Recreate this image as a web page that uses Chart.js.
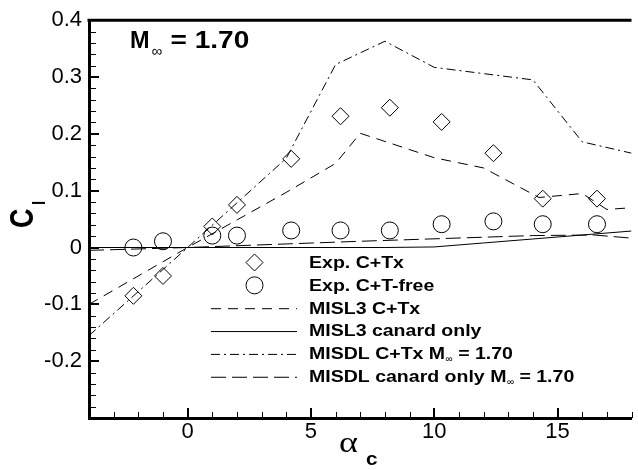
<!DOCTYPE html>
<html>
<head>
<meta charset="utf-8">
<script src="https://cdn.jsdelivr.net/npm/chart.js@4.4.0/dist/chart.umd.min.js"></script>
<style>
  html, body { margin: 0; padding: 0; background: #fff; overflow: hidden; }
  #wrap { width: 641px; height: 470px; }
</style>
</head>
<body>
<div id="wrap"><canvas id="clChart" width="641" height="470"></canvas></div>
<script>
// Experiment: alpha_c (deg) and roll coefficient C_l
const expAlpha = [-2.2, -1.0, 1.0, 2.0, 4.2, 6.2, 8.2, 10.3, 12.4, 14.4, 16.6];
const expTxCl = [-0.085, -0.05, 0.037, 0.075, 0.156, 0.231, 0.246, 0.221, 0.166, 0.086, 0.086];
const expFreeCl = [0.0, 0.011, 0.021, 0.021, 0.03, 0.03, 0.03, 0.041, 0.046, 0.041, 0.041];

// MISL3 predictions
const misl3TxAlpha = [-4, 0, 4, 6, 7, 10, 12, 14.25, 16, 17, 18];
const misl3TxCl = [-0.1, 0, 0.097, 0.148, 0.201, 0.158, 0.14, 0.088, 0.095, 0.067, 0.07];
const misl3CanAlpha = [-4, 0, 4, 8, 10, 12, 14, 16, 18];
const misl3CanCl = [0, 0, 0, 0, 0.001, 0.008, 0.015, 0.022, 0.029];

// MISDL predictions
const misdlTxAlpha = [-4, 0, 4, 6, 8, 10, 14, 16, 18];
const misdlTxCl = [-0.155, 0, 0.157, 0.322, 0.363, 0.317, 0.295, 0.186, 0.166];
const misdlCanAlpha = [-4, 0, 7, 14, 16.5, 18];
const misdlCanCl = [-0.005, 0, 0.011, 0.021, 0.022, 0.0165];

// axis ranges
const xMin = -4, xMax = 18;
const yMin = -0.3, yMax = 0.4;

function pts(xs, ys) {
    return xs.map((v, i) => ({ x: v, y: ys[i] }));
}

const SANS = '"Liberation Sans", Arial, sans-serif';

// draw text stretched horizontally (the reference text is wide)
function wideText(ctx, text, x, y, sx) {
    ctx.save();
    ctx.translate(x, y);
    ctx.scale(sx, 1);
    ctx.fillText(text, 0, 0);
    ctx.restore();
    return ctx.measureText(text).width * sx;
}

// frame, inward ticks, titles, annotation and legend
const decorPlugin = {
    id: 'decor',
    afterDraw(chart) {
        const { ctx, chartArea: a, scales: { x, y } } = chart;
        ctx.save();
        ctx.strokeStyle = '#000';
        ctx.fillStyle = '#000';

        // top frame line
        ctx.lineWidth = 3;
        ctx.beginPath();
        ctx.moveTo(a.left - 1.5, a.top);
        ctx.lineTo(a.right, a.top);
        ctx.stroke();

        // x ticks pointing in
        for (let v = xMin; v <= xMax; v++) {
            const major = v % 5 === 0;
            const px = Math.round(x.getPixelForValue(v)) + (major ? 0 : 0.5);
            ctx.lineWidth = major ? 2 : 1;
            ctx.beginPath();
            ctx.moveTo(px, a.bottom);
            ctx.lineTo(px, a.bottom - (major ? 10 : 6));
            ctx.stroke();
        }
        // y ticks pointing in
        for (let i = 0; i <= 35; i++) {
            const v = yMin + i * 0.02;
            const major = i % 5 === 0;
            const py = Math.round(y.getPixelForValue(v)) + (major ? 0 : 0.5);
            ctx.lineWidth = major ? 2 : 1;
            ctx.beginPath();
            ctx.moveTo(a.left, py);
            ctx.lineTo(a.left + (major ? 10 : 7), py);
            ctx.stroke();
        }

        // y title C_l
        ctx.save();
        ctx.translate(33, 228);
        ctx.rotate(-Math.PI / 2);
        ctx.scale(1, 1.23);
        ctx.font = 'bold 27px ' + SANS;
        ctx.fillText('C', 0, 0);
        ctx.font = 'bold 15px ' + SANS;
        ctx.fillText('l', 23, 9.8);
        ctx.restore();

        // x title alpha_c
        ctx.font = '30px "Liberation Serif", serif';
        wideText(ctx, 'α', 339, 452, 1.2);
        ctx.font = 'bold 18px ' + SANS;
        wideText(ctx, 'c', 366, 465, 1.15);

        // Mach annotation
        ctx.font = 'bold 23px ' + SANS;
        const mw = wideText(ctx, 'M', 130, 48, 1.02);
        ctx.font = '15px ' + SANS;
        wideText(ctx, '∞', 130 + mw + 2, 56, 1.0);
        ctx.font = 'bold 23px ' + SANS;
        wideText(ctx, '= 1.70', 170.5, 48, 1.22);

        // legend
        const rowY0 = 262.5, rowStep = 22.85;
        chart.data.datasets.forEach((ds, i) => {
            const cy = rowY0 + i * rowStep;
            ctx.strokeStyle = '#000';
            ctx.lineWidth = 1;
            if (ds.showLine) {
                ctx.setLineDash(ds.borderDash || []);
                ctx.beginPath();
                ctx.moveTo(211, cy + 0.5);
                ctx.lineTo(297, cy + 0.5);
                ctx.stroke();
                ctx.setLineDash([]);
            } else if (ds.pointStyle === 'rectRot') {
                const r = ds.pointRadius;
                ctx.beginPath();
                ctx.moveTo(254.5 - r, cy);
                ctx.lineTo(254.5, cy - r);
                ctx.lineTo(254.5 + r, cy);
                ctx.lineTo(254.5, cy + r);
                ctx.closePath();
                ctx.stroke();
            } else {
                ctx.beginPath();
                ctx.arc(254.5, cy, ds.pointRadius, 0, Math.PI * 2);
                ctx.stroke();
            }
            // label, "_∞" marks a small subscript
            const parts = ds.label.split('_∞');
            ctx.font = 'bold 16px ' + SANS;
            let tx = 309;
            tx += wideText(ctx, parts[0], tx, cy + 5.3, 1.22);
            if (parts.length > 1) {
                ctx.font = '10px ' + SANS;
                tx += wideText(ctx, '∞', tx + 0.5, cy + 8.5, 1.0) + 0.5;
                ctx.font = 'bold 16px ' + SANS;
                wideText(ctx, parts[1], tx, cy + 5.3, 1.22);
            }
        });
        ctx.restore();
    }
};

const lineStyle = (dash) => ({
    showLine: true,
    borderColor: '#000',
    borderWidth: 1,
    borderDash: dash,
    pointRadius: 0,
    pointHoverRadius: 0,
    fill: false
});

const markStyle = (shape) => ({
    showLine: false,
    pointStyle: shape,
    pointRadius: 8.5,
    pointHoverRadius: 8.5,
    pointBorderWidth: 1,
    borderColor: '#000',
    backgroundColor: 'rgba(0,0,0,0)'
});

new Chart(document.getElementById('clChart'), {
    type: 'scatter',
    data: {
        datasets: [
            Object.assign({ label: 'Exp. C+Tx', data: pts(expAlpha, expTxCl) }, markStyle('rectRot')),
            Object.assign({ label: 'Exp. C+T-free', data: pts(expAlpha, expFreeCl) }, markStyle('circle')),
            Object.assign({ label: 'MISL3 C+Tx', data: pts(misl3TxAlpha, misl3TxCl) }, lineStyle([10, 7])),
            Object.assign({ label: 'MISL3 canard only', data: pts(misl3CanAlpha, misl3CanCl) }, lineStyle([])),
            Object.assign({ label: 'MISDL C+Tx M_∞ = 1.70', data: pts(misdlTxAlpha, misdlTxCl) }, lineStyle([9, 4, 2, 4])),
            Object.assign({ label: 'MISDL canard only M_∞ = 1.70', data: pts(misdlCanAlpha, misdlCanCl) }, lineStyle([15, 6]))
        ]
    },
    options: {
        responsive: false,
        animation: false,
        devicePixelRatio: 1,
        layout: { padding: { top: 15, right: 0, left: 0, bottom: 0 } },
        plugins: {
            legend: { display: false },
            tooltip: { enabled: false }
        },
        scales: {
            x: {
                type: 'linear',
                min: xMin,
                max: xMax,
                afterFit: (s) => { s.height = 52; },
                grid: { drawOnChartArea: false, drawTicks: false },
                border: { display: true, width: 3, color: '#000' },
                ticks: {
                    stepSize: 5,
                    autoSkip: false,
                    maxRotation: 0,
                    padding: 1,
                    color: '#000',
                    font: { family: SANS, size: 22 },
                    callback: (v) => (v % 5 === 0 ? String(v) : '')
                }
            },
            y: {
                type: 'linear',
                min: yMin,
                max: yMax,
                afterFit: (s) => { s.width = 89; },
                grid: { drawOnChartArea: false, drawTicks: false },
                border: { display: true, width: 3, color: '#000' },
                ticks: {
                    stepSize: 0.1,
                    autoSkip: false,
                    padding: 7,
                    color: '#000',
                    font: { family: SANS, size: 22 },
                    callback: (v) => {
                        const r = Math.round(v * 10) / 10;
                        return r <= -0.3 ? '' : String(r);
                    }
                }
            }
        }
    },
    plugins: [decorPlugin]
});
</script>
</body>
</html>
